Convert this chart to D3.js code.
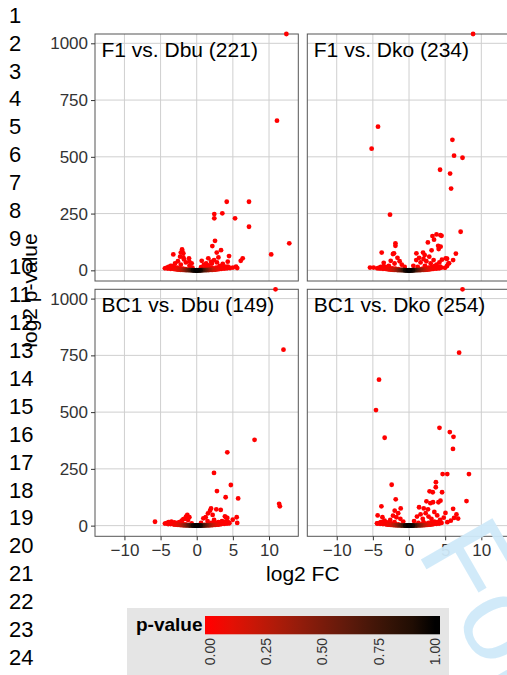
<!DOCTYPE html>
<html><head><meta charset="utf-8">
<script src="https://cdn.jsdelivr.net/npm/d3@7"></script>
<style>body{margin:0;background:#fff}svg{display:block}</style>
</head><body>
<svg id="c" width="507" height="675"></svg>
<script>
// ---------- data ----------
const facetLabels = ["F1 vs. Dbu (221)", "F1 vs. Dko (234)", "BC1 vs. Dbu (149)", "BC1 vs. Dko (254)"];
const xTicks = [-10, -5, 0, 5, 10];
const yTicks = [0, 250, 500, 750, 1000];
const legendTicks = [0, 0.25, 0.5, 0.75, 1];
const legendLabels = ["0.00", "0.25", "0.50", "0.75", "1.00"];
const lineNumbers = [1,2,3,4,5,6,7,8,9,10,11,12,13,14,15,16,17,18,19,20,21,22,23,24];

// dense non-significant genes near the origin (log2 FC, log2 p-value), shared look in every panel
const nearZero = [
 [-4.4,9],[-4.2,11],[-4.0,8],[-3.8,10],[-3.6,7],[-3.4,9],[-3.2,6],[-3.0,5],[-2.8,4.3],[-2.6,3.6],
 [-2.4,3.0],[-2.2,2.5],[-2.0,2.1],[-1.8,1.7],[-1.6,1.4],[-1.4,1.1],[-1.2,0.85],[-1.0,0.65],[-0.8,0.45],
 [-0.6,0.3],[-0.4,0.15],[-0.3,0.1],[-0.2,0.05],[-0.1,0.02],[0,0.01],[0.1,0.02],[0.2,0.05],[0.3,0.1],
 [0.4,0.15],[0.6,0.3],[0.8,0.45],[1.0,0.65],[1.2,0.85],[1.4,1.1],[1.6,1.4],[1.8,1.7],[2.0,2.1],[2.2,2.5],
 [2.4,3.0],[2.6,3.6],[2.8,4.3],[3.0,5],[3.2,6],[3.4,7],[3.6,9],[3.8,8],[4.0,10],[4.2,9],[4.5,12],
 [-3.9,15],[-3.5,18],[-3.1,14],[-2.7,12],[-2.3,9],[-1.9,7],[-1.5,5],[-1.1,3.5],[-0.7,2.2],[-0.4,1.2],
 [0.4,1.2],[0.7,2.2],[1.1,3.5],[1.5,5],[1.9,7],[2.3,9],[2.7,12],[3.1,14],[3.5,18],[3.9,15],[4.3,16],
 [-0.15,0.2],[0.15,0.2],[0,0.3],[-0.5,0.08],[0.5,0.08],[-0.05,0.01],[0.05,0.01]
];

const f1Dbu = [
 [12.4,Infinity],[11.1,659],[12.8,119],[10.3,70],[4.15,302],[7.23,302],[3.54,251],[2.43,248],[2.43,229],
 [5.3,229],[7.23,192],[2.53,130],[2.16,107],[3.36,89],[2.77,78],[4.47,63],[3.0,57],[6.36,53],[6.09,42],
 [5.44,16],[4.29,38],[-3.24,70],[-2.03,92],[-2.0,85],[-2.2,78],[-1.85,75],[-1.85,57],[-1.76,48],[-1.07,53],
 [-1.02,38],[-0.7,31],[-2.3,60],[-2.6,40],[-1.5,35],[-3.0,30],[-3.6,20],[-3.93,13],[-3.38,16],[-2.2,25],
 [-1.0,20],[-0.6,12],[0.6,14],[0.69,42],[1.0,25],[1.3,30],[1.6,53],[1.6,22],[1.98,38],[2.1,30],[2.4,45],
 [2.8,35],[3.2,20],[3.6,28],[4.0,15],[4.6,10],[5.0,12],[5.6,10],[1.2,12],[2.0,12],[3.0,10]
];
const f1Dko = [
 [8.86,Infinity],[-4.29,633],[-5.17,536],[6.0,575],[6.23,505],[7.4,496],[4.29,443],[5.68,426],[5.82,360],
 [-2.63,245],[7.14,170],[3.24,151],[3.8,158],[4.35,155],[4.5,152],[3.46,135],[2.61,123],[4.03,108],
 [4.37,104],[4.1,94],[3.12,88],[6.48,74],[-1.88,119],[-1.88,108],[-3.78,78],[-2.08,75],[-5.4,12],[-4.9,12],
 [5.08,53],[5.54,31],[4.55,47],[6.1,45],[5.26,51],[5.45,31],[5.26,19],[4.98,11],[-2.22,72],[-3.5,33],
 [-2.53,42],[1.94,78],[2.17,67],[1.02,75],[-1.6,55],[-1.3,40],[-2.0,30],[-1.0,25],[-0.6,15],[0.6,20],
 [1.0,45],[1.4,55],[1.6,35],[2.0,50],[2.4,40],[2.8,60],[3.0,30],[3.4,45],[3.8,25],[4.2,35],[2.2,20],
 [1.2,15],[-2.8,20],[-3.2,12],[-4.2,10]
];
const bc1Dbu = [
 [10.9,Infinity],[12.0,775],[11.4,96],[11.5,85],[8.0,378],[4.23,323],[2.39,232],[4.72,179],[2.8,152],
 [4.0,125],[5.73,120],[1.98,76],[2.71,72],[3.32,69],[1.84,66],[1.56,54],[2.2,47],[3.9,41],[4.23,34],
 [5.53,37],[4.98,26],[5.6,12],[4.05,35],[-5.77,17],[-1.3,47],[-1.48,40],[-1.02,37],[-2.07,22],[-1.85,28],
 [-3.93,7],[-3.24,7],[1.24,37],[0.92,32],[-1.6,30],[-1.2,25],[-2.4,15],[-2.8,10],[0.6,12],[1.5,20],
 [2.4,25],[3.0,15],[3.5,20],[4.5,10],[2.0,12],[-0.7,10]
];
const bc1Dko = [
 [7.4,Infinity],[6.93,762],[-4.15,643],[-4.57,509],[-3.37,387],[4.21,431],[5.64,412],[6.15,391],[6.08,338],
 [4.65,227],[5.29,227],[8.29,227],[3.72,191],[3.7,169],[2.84,151],[3.28,147],[4.57,147],[-2.4,180],
 [-1.84,116],[7.95,108],[2.41,107],[3.32,103],[2.96,99],[4.07,103],[4.35,110],[1.39,81],[2.04,76],
 [2.63,72],[6.1,74],[6.56,49],[6.23,34],[6.79,31],[5.78,22],[5.04,56],[-3.82,85],[-4.34,45],[-1.15,76],
 [-1.98,66],[-2.22,44],[-1.75,37],[-3.68,37],[-3.37,22],[-4.43,10],[-1.5,55],[-1.2,30],[-2.6,25],
 [-0.8,18],[0.7,20],[1.1,40],[1.6,50],[1.9,30],[2.3,55],[2.7,40],[3.1,30],[3.5,60],[3.9,45],[4.3,25],
 [4.8,35],[5.3,15],[2.0,15],[1.3,12],[-3.0,12],[-2.0,15]
];
const facetData = [f1Dbu, f1Dko, bc1Dbu, bc1Dko];

// ---------- layout ----------
const FONT = "'Liberation Sans', Arial, Helvetica, sans-serif";
const svg = d3.select("#c");
const panelW = 203.3, panelH = 247;
const colLeft = [95, 307.3], rowTop = [34, 289.3];
const xDomain = [-14.07, 14.05], yDomain = [-47, 1041];
const color = d3.scaleLinear().domain([0, 1]).range(["#ff0000", "#000000"]).interpolate(d3.interpolateLab);

svg.append("rect").attr("width", 507).attr("height", 675).attr("fill", "#fff");

// line numbers
svg.append("g").selectAll("text").data(lineNumbers).join("text")
  .attr("x", 9).attr("y", (d, i) => 22.7 + i * 27.93)
  .attr("font-family", FONT).attr("font-size", 22).attr("fill", "#000")
  .text(d => d);

facetLabels.forEach((label, i) => {
  const col = i % 2, row = Math.floor(i / 2);
  const x0 = colLeft[col], y0 = rowTop[row];
  const x = d3.scaleLinear().domain(xDomain).range([x0, x0 + panelW]);
  const y = d3.scaleLinear().domain(yDomain).range([y0 + panelH, y0]).clamp(true);
  const g = svg.append("g");

  g.append("rect").attr("x", x0).attr("y", y0).attr("width", panelW).attr("height", panelH).attr("fill", "#fff");
  g.append("g").selectAll("line").data(xTicks).join("line")
    .attr("x1", d => x(d)).attr("x2", d => x(d)).attr("y1", y0).attr("y2", y0 + panelH)
    .attr("stroke", "#cfcfcf").attr("stroke-width", 1);
  g.append("g").selectAll("line").data(yTicks).join("line")
    .attr("x1", x0).attr("x2", x0 + panelW).attr("y1", d => y(d)).attr("y2", d => y(d))
    .attr("stroke", "#cfcfcf").attr("stroke-width", 1);
  g.append("rect").attr("x", x0).attr("y", y0).attr("width", panelW).attr("height", panelH)
    .attr("fill", "none").attr("stroke", "#555").attr("stroke-width", 1);

  if (col === 0) {
    const ax = g.append("g").attr("transform", `translate(${x0},0)`)
      .call(d3.axisLeft(y).tickValues(yTicks).tickSize(4).tickPadding(3).tickFormat(d3.format("d")));
    ax.select(".domain").remove();
    ax.selectAll("line").attr("stroke", "#333");
    ax.selectAll("text").attr("font-family", FONT).attr("font-size", 17).attr("fill", "#333");
  }
  if (row === 1) {
    const ax = g.append("g").attr("transform", `translate(0,${y0 + panelH})`)
      .call(d3.axisBottom(x).tickValues(xTicks).tickSize(4).tickPadding(4).tickFormat(d3.format("d")));
    ax.select(".domain").remove();
    ax.selectAll("line").attr("stroke", "#333");
    ax.selectAll("text").attr("font-family", FONT).attr("font-size", 17).attr("fill", "#333");
  }

  const pts = nearZero.concat(facetData[i])
    .map(([fc, lp]) => ({ fc, lp, p: Math.pow(2, -lp) }))
    .sort((a, b) => a.p - b.p);
  g.append("g").selectAll("circle").data(pts).join("circle")
    .attr("cx", d => x(d.fc)).attr("cy", d => y(d.lp)).attr("r", 2.4)
    .attr("fill", d => color(d.p));

  g.append("text").attr("x", x0 + 6.5).attr("y", y0 + 23)
    .attr("font-family", FONT).attr("font-size", 21).attr("fill", "#000").text(label);
});

// axis titles
svg.append("text").attr("x", 302.8).attr("y", 580.6).attr("text-anchor", "middle")
  .attr("font-family", FONT).attr("font-size", 21).attr("fill", "#000").text("log2 FC");
svg.append("text").attr("transform", "translate(37,290.5) rotate(-90)").attr("text-anchor", "middle")
  .attr("font-family", FONT).attr("font-size", 21).attr("fill", "#000").text("log2 p-value");

// legend
const lg = svg.append("g");
lg.append("rect").attr("x", 127).attr("y", 608).attr("width", 322).attr("height", 70).attr("fill", "#e5e5e5");
lg.append("text").attr("x", 136).attr("y", 631).attr("font-family", FONT).attr("font-size", 19)
  .attr("font-weight", "bold").attr("fill", "#000").text("p-value");
const legendX = d3.scaleLinear().domain([0, 1]).range([210, 435]);
const defs = svg.append("defs");
const grad = defs.append("linearGradient").attr("id", "pgrad").attr("gradientUnits", "userSpaceOnUse")
  .attr("x1", legendX(0)).attr("x2", legendX(1)).attr("y1", 0).attr("y2", 0);
grad.selectAll("stop").data(d3.range(0, 1.0001, 0.1)).join("stop")
  .attr("offset", d => d).attr("stop-color", d => color(d));
lg.append("rect").attr("x", 205).attr("y", 616).attr("width", 235).attr("height", 18.3).attr("fill", "url(#pgrad)");
lg.selectAll(".lt").data(legendTicks).join("text")
  .attr("transform", d => `translate(${legendX(d)},638) rotate(-90)`)
  .attr("text-anchor", "end").attr("dy", "0.35em")
  .attr("font-family", FONT).attr("font-size", 14).attr("fill", "#333")
  .text((d, i) => legendLabels[i]);

// watermark
svg.append("text").attr("transform", "translate(416,551) rotate(60)")
  .attr("font-family", FONT).attr("font-size", 120).attr("fill", "#cfe9f9").attr("fill-opacity", 0.95)
  .text("For Peer Review");
</script>
</body></html>
